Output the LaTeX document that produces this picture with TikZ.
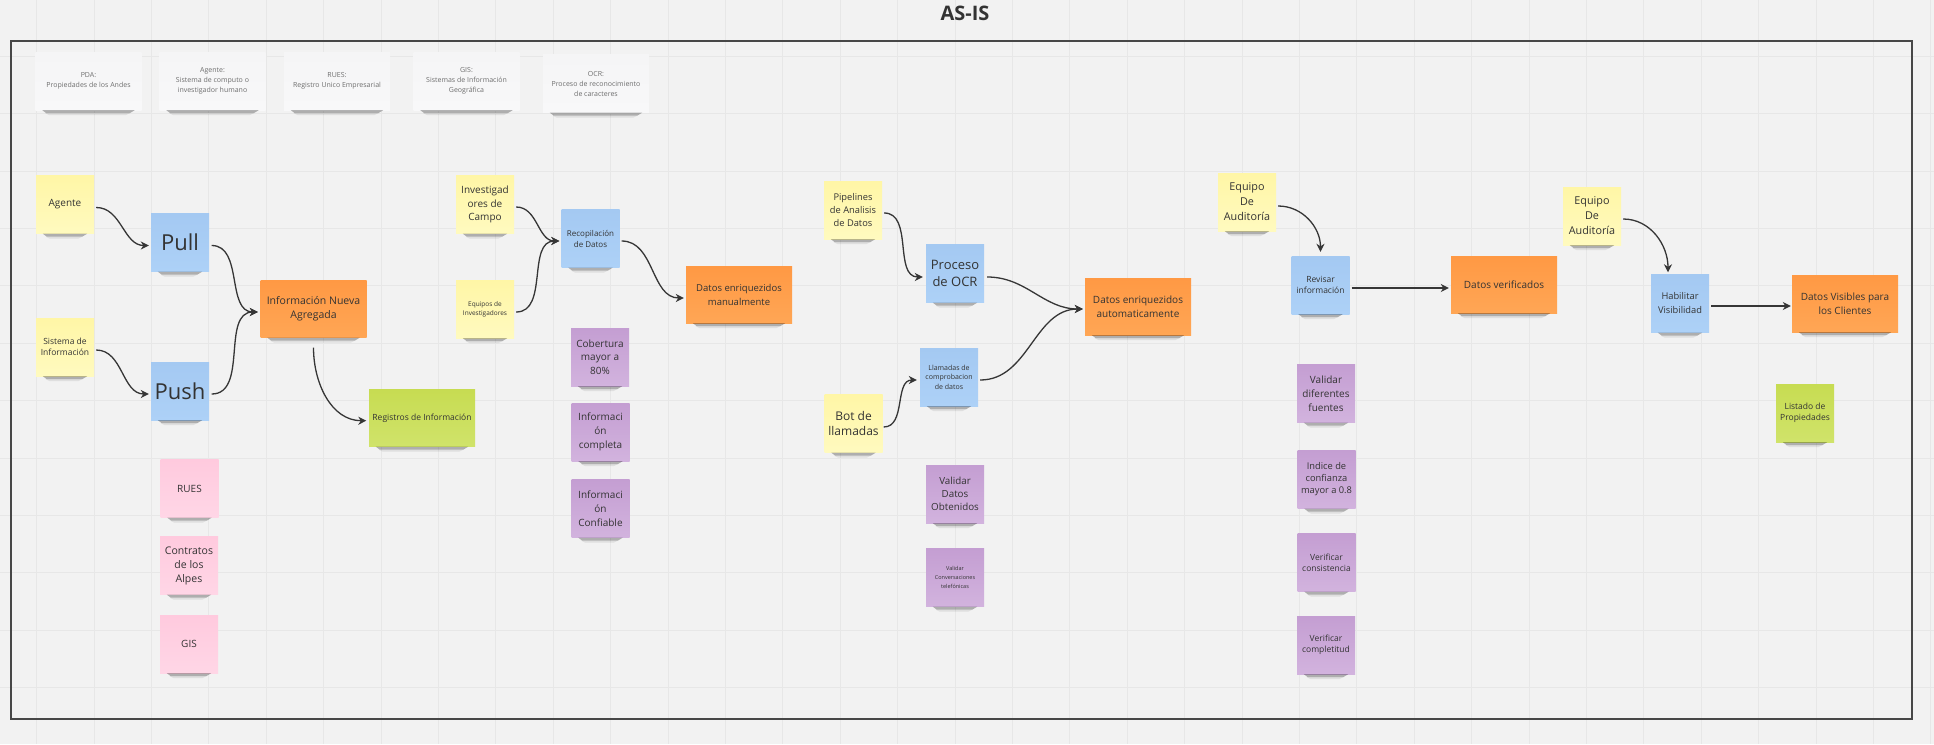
\documentclass[tikz,border=0pt]{standalone}
\usepackage{fontspec}
\setmainfont{Open Sans}
\usetikzlibrary{arrows.meta}
\definecolor{bgc}{HTML}{F2F2F2}
\definecolor{gridc}{HTML}{E7E7E7}
\definecolor{framec}{HTML}{474747}
\definecolor{txt}{HTML}{333333}
\definecolor{ltxt}{HTML}{6E6E6E}
\definecolor{arrc}{HTML}{363636}
\definecolor{yelT}{HTML}{FFF6A6}
\definecolor{yelB}{HTML}{FFFABF}
\definecolor{bluT}{HTML}{A4C9F2}
\definecolor{bluB}{HTML}{ADD1F7}
\definecolor{oraT}{HTML}{FF9944}
\definecolor{oraB}{HTML}{FFA655}
\definecolor{greT}{HTML}{C7DC52}
\definecolor{greB}{HTML}{D0E36A}
\definecolor{pinT}{HTML}{FFCADE}
\definecolor{pinB}{HTML}{FFD6E6}
\definecolor{purT}{HTML}{C49ED2}
\definecolor{purB}{HTML}{D2B3DE}
\definecolor{whiT}{HTML}{F5F5F6}
\definecolor{whiB}{HTML}{F8F8F9}
\newcommand{\nsh}[1]{%
  \fill[black,opacity=0.28] ([xshift=7pt]#1.south west) -- ([xshift=-7pt]#1.south east)
     -- ([xshift=-12pt,yshift=-3pt]#1.south east) -- ([xshift=11pt,yshift=-3pt]#1.south west) -- cycle;
  \fill[black,opacity=0.08] ([xshift=10pt,yshift=-3pt]#1.south west) -- ([xshift=-12pt,yshift=-3pt]#1.south east)
     -- ([xshift=-16pt,yshift=-5pt]#1.south east) -- ([xshift=14pt,yshift=-5pt]#1.south west) -- cycle;}
\tikzset{
  f/.style n args={2}{font=\fontsize{#1}{#2}\selectfont},
  note/.style={inner sep=0pt, align=center, minimum width=58pt, minimum height=58pt, text=txt},
  wide/.style={minimum width=106pt, minimum height=57pt},
  yel/.style={note, top color=yelT, bottom color=yelB},
  blu/.style={note, top color=bluT, bottom color=bluB},
  ora/.style={note, wide, top color=oraT, bottom color=oraB},
  gre/.style={note, top color=greT, bottom color=greB},
  pin/.style={note, top color=pinT, bottom color=pinB},
  pur/.style={note, top color=purT, bottom color=purB},
  leg/.style={note, wide, minimum height=58pt, top color=whiT, bottom color=whiB, text=ltxt, f={7}{10}},
  arr/.style={draw=arrc, line width=1.3pt, -{Stealth[length=8pt,width=8pt,inset=2.5pt]}}
}
\begin{document}
\begin{tikzpicture}[x=1pt,y=1pt]
\fill[bgc] (0,0) rectangle (1934,-744);
\useasboundingbox (0,0) rectangle (1934,-744);
% grid
\foreach \i in {0,...,33} \draw[gridc,line width=1pt] (36.7+57.4*\i,0) -- ++(0,-744);
\foreach \j in {-1,...,12} \draw[gridc,line width=1pt] (0,-56.2-57.4*\j) -- ++(1934,0);
% frame and title
\draw[framec,line width=1.8pt] (11,-40.7) rectangle (1912,-719);
\node[font=\fontsize{20}{24}\selectfont\bfseries, text=txt] (title) at (965,-13) {AS-IS};
% legend
\node[leg] (lpda) at (88.5,-81) {PDA:\\Propiedades de los Andes};
\node[leg] (lag) at (212.5,-81) {Agente:\\Sistema de computo o\\investigador humano};
\node[leg] (lrues) at (337,-81) {RUES:\\Registro Unico Empresarial};
\node[leg] (lgis) at (466.5,-81) {GIS:\\Sistemas de Información\\Geográfica};
\node[leg] (locr) at (596,-83.5) {OCR:\\Proceso de reconocimiento\\de caracteres};
% column 1
\node[yel,f={10}{14}] (agente) at (65,-204.5) {Agente};
\node[yel,f={8.5}{11}] (sist) at (65,-347) {Sistema de\\Información};
\node[blu,f={22}{26}] (pull) at (180,-242.5) {Pull};
\node[blu,f={22}{26}] (push) at (180,-391) {Push};
\node[ora,f={10.5}{14}] (ina) at (313.5,-309) {Información Nueva\\Agregada};
\node[gre,wide,f={8.5}{11}] (reg) at (422,-418) {Registros de Información};
\node[pin,f={10}{14}] (rues) at (189.5,-488.5) {RUES};
\node[pin,f={10.5}{14}] (contr) at (189,-565.5) {Contratos\\de los\\Alpes};
\node[pin,f={10}{14}] (gisn) at (189,-644) {GIS};
% column 2
\node[yel,f={10}{13.3}] (invest) at (485,-204.5) {Investigad\\ores de\\Campo};
\node[yel,f={6.5}{9.3}] (equip) at (485,-309) {Equipos de\\Investigadores};
\node[blu,f={8}{11}] (recop) at (590.5,-238.5) {Recopilación\\de Datos};
\node[ora,f={9.5}{14}] (dem) at (739,-294.5) {Datos enriquezidos\\manualmente};
\node[pur,f={10}{13.3}] (cob) at (600,-357) {Cobertura\\mayor a\\80\%};
\node[pur,f={10}{14}] (icomp) at (600.5,-432) {Informaci\\ón\\completa};
\node[pur,f={10}{14}] (iconf) at (600.5,-508.5) {Informaci\\ón\\Confiable};
% column 3
\node[yel,f={9.3}{13}] (pipe) at (853,-210) {Pipelines\\de Analisis\\de Datos};
\node[blu,f={13}{16.7}] (ocr) at (955,-273.5) {Proceso\\de OCR};
\node[blu,f={7}{9.5}] (llam) at (949,-377) {Llamadas de\\comprobacion\\de datos};
\node[yel,f={12}{15}] (bot) at (853.5,-423.5) {Bot de\\llamadas};
\node[pur,f={9.8}{12.7}] (vdo) at (955,-494) {Validar\\Datos\\Obtenidos};
\node[pur,f={5.5}{9}] (vct) at (955,-577.5) {Validar\\Conversaciones\\telefónicas};
\node[ora,f={10}{14}] (dea) at (1138,-306.5) {Datos enriquezidos\\automaticamente};
% column 4
\node[yel,f={10.8}{15}] (eqa) at (1247,-202) {Equipo\\De\\Auditoría};
\node[blu,f={8.5}{11}] (rev) at (1320.5,-285) {Revisar\\información};
\node[ora,f={10}{14}] (dv) at (1504,-284.5) {Datos verificados};
\node[pur,f={10}{14}] (vdf) at (1326,-393.5) {Validar\\diferentes\\fuentes};
\node[pur,f={9.3}{12}] (idc) at (1326.5,-479.5) {Indice de\\confianza\\mayor a 0.8};
\node[pur,f={8.5}{11}] (vcons) at (1326.5,-562.5) {Verificar\\consistencia};
\node[pur,f={8.5}{11}] (vcomp) at (1326,-645) {Verificar\\completitud};
% column 5
\node[yel,f={10.8}{15}] (eqb) at (1592,-216) {Equipo\\De\\Auditoría};
\node[blu,f={9.3}{14}] (hab) at (1680,-303.5) {Habilitar\\Visibilidad};
\node[ora,f={10}{14}] (dvc) at (1845,-303.5) {Datos Visibles para\\los Clientes};
\node[gre,f={8.5}{11}] (list) at (1805,-413) {Listado de\\Propiedades};
% shadows
\foreach \n in {lpda,lag,lrues,lgis,locr,agente,sist,pull,push,ina,reg,rues,contr,gisn,
  invest,equip,recop,dem,cob,icomp,iconf,pipe,ocr,llam,bot,vdo,vct,dea,eqa,rev,dv,vdf,idc,
  vcons,vcomp,eqb,hab,dvc,list} {\nsh{\n}}
% connectors
\draw[arr] ([xshift=2pt,yshift=-3pt]agente.east) to[out=0,in=180] ([xshift=-2pt,yshift=-3pt]pull.west);
\draw[arr] ([xshift=2pt,yshift=-3pt]sist.east) to[out=0,in=180] ([xshift=-2pt,yshift=-3pt]push.west);
\draw[arr] ([xshift=2.5pt,yshift=-3pt]pull.east) to[out=0,in=180] ([xshift=-2.5pt,yshift=-3pt]ina.west);
\draw[arr] ([xshift=2.5pt,yshift=-3pt]push.east) to[out=0,in=180] ([xshift=-2.5pt,yshift=-3pt]ina.west);
\draw[arr] ([yshift=-10pt]ina.south) to[out=-90,in=180] ([xshift=-2.5pt,yshift=-2.7pt]reg.west);
\draw[arr] ([xshift=2pt,yshift=-2.5pt]invest.east) to[out=0,in=180] ([xshift=-2pt,yshift=-2.5pt]recop.west);
\draw[arr] ([xshift=2pt,yshift=-3pt]equip.east) to[out=0,in=180] ([xshift=-2pt,yshift=-2.5pt]recop.west);
\draw[arr] ([xshift=2pt,yshift=-2.5pt]recop.east) to[out=0,in=180] ([xshift=-2pt,yshift=-3.5pt]dem.west);
\draw[arr] ([xshift=2pt,yshift=-3pt]pipe.east) to[out=0,in=180] ([xshift=-3pt,yshift=-3.5pt]ocr.west);
\draw[arr] ([xshift=1pt,yshift=-3.5pt]bot.east) to[out=0,in=180] ([xshift=-3pt,yshift=-3pt]llam.west);
\draw[arr] ([xshift=3pt,yshift=-3.5pt]ocr.east) to[out=0,in=180] ([xshift=-2pt,yshift=-2.5pt]dea.west);
\draw[arr] ([xshift=2pt,yshift=-3pt]llam.east) to[out=0,in=180] ([xshift=-2pt,yshift=-2.5pt]dea.west);
\draw[arr] ([xshift=2pt,yshift=-4pt]eqa.east) to[out=0,in=90] ([yshift=4pt]rev.north);
\draw[arr] ([xshift=2pt,yshift=-3pt]rev.east) -- ([xshift=-2pt,yshift=-3.5pt]dv.west);
\draw[arr] ([xshift=2pt,yshift=-3pt]eqb.east) to[out=0,in=90] ([xshift=-12pt,yshift=2pt]hab.north);
\draw[arr] ([xshift=2pt,yshift=-2.5pt]hab.east) -- ([xshift=-1pt,yshift=-2.5pt]dvc.west);
\end{tikzpicture}
\end{document}
